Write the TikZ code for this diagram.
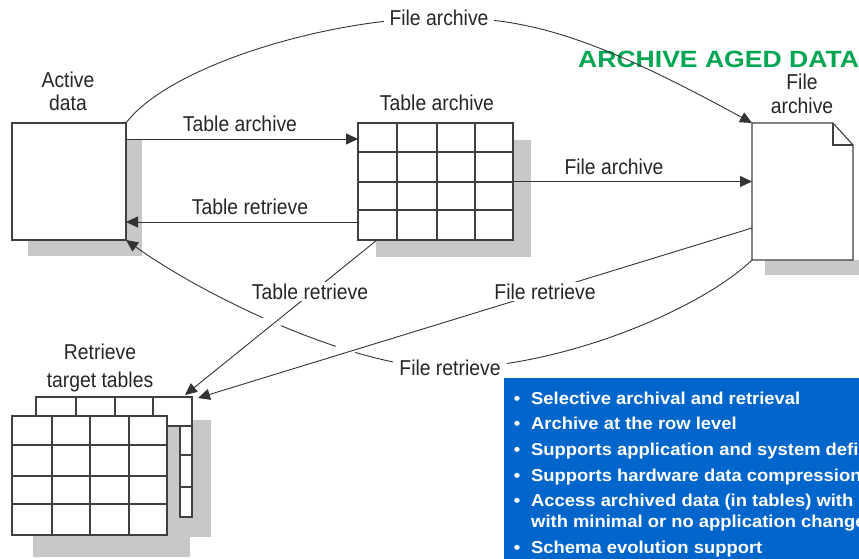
\documentclass[tikz,border=0pt]{standalone}
\usepackage{fontspec}
\setmainfont{Liberation Sans}
\newfontfamily\lblfont[FakeStretch=0.9]{Liberation Sans}
\newfontfamily\bluefont[FakeStretch=1.07]{Liberation Sans}
\newfontfamily\greenfont[FakeStretch=1.13]{Liberation Sans}
\usetikzlibrary{arrows.meta,calc}
\definecolor{ibmblue}{RGB}{0,102,204}
\definecolor{aggreen}{RGB}{0,166,81}
\definecolor{shadowgray}{RGB}{200,200,200}
\begin{document}
\begin{tikzpicture}[x=1pt,y=-1pt,
  frame/.style={draw=black!75,line width=1.1pt},
  conn/.style={draw=black!80,line width=0.9pt},
  arr/.style={conn,-{Triangle[length=12pt,width=11pt]}},
  lbl/.style={font=\lblfont\fontsize{21.5}{24}\selectfont,inner sep=1pt,text=black!85},
  lblw/.style={lbl,fill=white,inner xsep=6pt,inner ysep=2pt},
  shade/.style={fill=shadowgray},
  btext/.style={font=\bluefont\bfseries\fontsize{17.2}{20}\selectfont,text=white,anchor=base west,inner sep=0pt},
  bdot/.style={font=\bluefont\bfseries\fontsize{17.2}{20}\selectfont,text=white,anchor=base,inner sep=0pt},
  box/.style={inner sep=0pt,outer sep=0pt,frame,fill=white},
  ghost/.style={inner sep=0pt,outer sep=0pt}
]
\useasboundingbox (0,0) rectangle (859,559);
\clip (0,0) rectangle (859,559);

% ---------- shadows ----------
\fill[shade] (28,139) rectangle (142,256);
\fill[shade] (376,140) rectangle (531,257);
\fill[shade] (765,260) rectangle (859,275);
\fill[shade] (57,420) rectangle (211,537);
\fill[shade] (33,437) rectangle (190,557);

% ---------- active data box ----------
\node[box,minimum width=114pt,minimum height=117pt] (active) at (69,181.5) {};

% ---------- table archive grid ----------
\node[box,minimum width=155pt,minimum height=117pt] (grid) at (435.5,181.5) {};
\foreach \x in {397,437,475} \draw[frame] (\x,123) -- (\x,240);
\foreach \y in {152,182,210} \draw[frame] (358,\y) -- (513,\y);

% ---------- file archive document ----------
\node[ghost,minimum width=101pt,minimum height=137pt] (doc) at (802.5,191.5) {};
\draw[frame,fill=white] (doc.north west) -- ++(81,0) -- ++(20,22) -- (doc.south east) -- (doc.south west) -- cycle;
\draw[frame] ($(doc.north west)+(81,0)$) -- ++(0,22) -- ++(20,0);

% ---------- retrieve target tables ----------
\node[ghost,minimum width=156pt,minimum height=120pt] (tgt) at (114,457) {};
\draw[frame,fill=white] (36,397) rectangle (192,426);
\foreach \x in {76,115,153} \draw[frame] (\x,397) -- (\x,426);
\draw[frame,fill=white] (180,426) rectangle (192,517);
\foreach \y in {455,487} \draw[frame] (180,\y) -- (192,\y);
\node[box,minimum width=155pt,minimum height=119pt] (tgtf) at (89.5,475.5) {};
\foreach \x in {52,90,129} \draw[frame] (\x,416) -- (\x,535);
\foreach \y in {445,476,504} \draw[frame] (12,\y) -- (167,\y);

% ---------- green title ----------
\node[font=\greenfont\bfseries\fontsize{23.5}{26}\selectfont,text=aggreen,anchor=base west,inner sep=0pt] (title) at (578,68) {ARCHIVE AGED DATA};

% ---------- connectors ----------
\coordinate (ya) at (0,139);
\coordinate (yr) at (0,222);
\draw[arr] (active.east |- ya) -- (grid.west |- ya);
\draw[arr] (grid.west |- yr) -- (active.east |- yr);
\draw[arr] (grid.east) -- (grid.east -| doc.west);

\coordinate (cFA) at (439,18);
\draw[arr] (active.north east) .. controls (170,65) and (330,18) .. (cFA)
  .. controls (530,16) and (600,40) .. (doc.north west);

\coordinate (cFR2) at (450,368);
\draw[arr] (doc.south west) .. controls (700,310) and (560,368) .. (cFR2)
  .. controls (360,370) and (210,300) .. (active.south east);

\coordinate (trs) at ($(grid.south west)+(19,0)$);
\coordinate (tre) at ($(tgt.north east)+(-7,-2)$);
\coordinate (frs) at ($(doc.west)+(0,36.5)$);
\coordinate (fre) at ($(tgt.north east)+(6,1)$);
\fill[white] ($(trs)!0.557!(tre)$) circle (11);
\fill[white] ($(frs)!0.736!(fre)$) circle (11);
\draw[arr] (trs) -- (tre);
\draw[arr] (frs) -- (fre);

% ---------- labels ----------
\node[lbl] (lTA) at (240,124) {Table archive};
\node[lbl] (lTR) at (250,207) {Table retrieve};
\node[lbl] (lTAg) at (437,103) {Table archive};
\node[lbl] (lFAm) at (614,167) {File archive};
\node[lblw] (lFA) at (cFA) {File archive};
\node[lblw] (lTRb) at (310,291.5) {Table retrieve};
\node[lblw] (lFRr) at (545,291.5) {File retrieve};
\node[lblw] (lFRb) at (cFR2) {File retrieve};
\node[lbl,align=center,font=\lblfont\fontsize{21.5}{23}\selectfont] (lAD) at (68,91) {Active\\data};
\node[lbl,align=center,font=\lblfont\fontsize{21.5}{24}\selectfont] (lFile) at (802,94) {File\\archive};
\node[lbl,align=center,font=\lblfont\fontsize{21.5}{28}\selectfont] (lRT) at (100,368) {Retrieve\\target tables};

% ---------- blue panel ----------
\fill[ibmblue] (504,378) rectangle (880,580);
\node[bdot] (d1) at (517,404) {•};
\node[btext] (t1) at (531,404) {Selective archival and retrieval};
\node[bdot] (d2) at (517,429.7) {•};
\node[btext] (t2) at (531,429.7) {Archive at the row level};
\node[bdot] (d3) at (517,455.4) {•};
\node[btext] (t3) at (531,455.4) {Supports application and system defined};
\node[bdot] (d4) at (517,481.1) {•};
\node[btext] (t4) at (531,481.1) {Supports hardware data compression};
\node[bdot] (d5) at (517,506.8) {•};
\node[btext] (t5) at (531,506.8) {Access archived data (in tables) with};
\node[btext] (t6) at (531,527.3) {with minimal or no application changes};
\node[bdot] (d7) at (517,553) {•};
\node[btext] (t7) at (531,553) {Schema evolution support};
\end{tikzpicture}
\end{document}
